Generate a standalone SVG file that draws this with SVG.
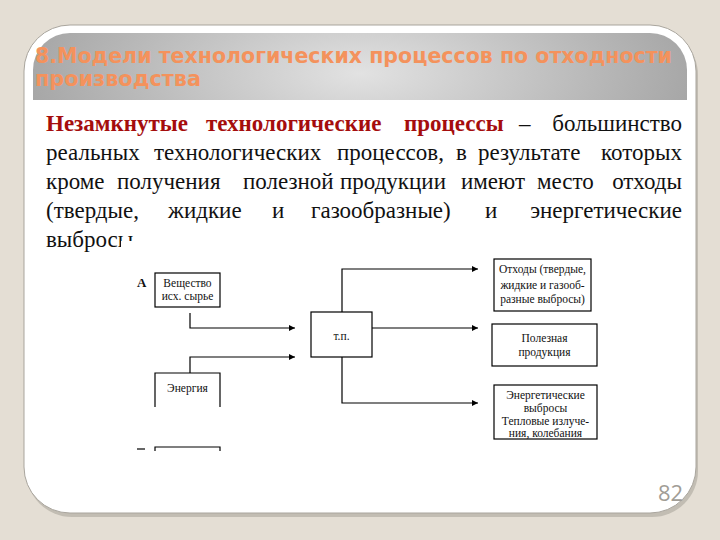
<svg xmlns="http://www.w3.org/2000/svg" width="720" height="540" viewBox="0 0 720 540">
<defs>
<radialGradient id="hdr" cx="0.5" cy="0.6" r="0.6" gradientTransform="translate(0.5 0.6) scale(1 4) translate(-0.5 -0.6)">
<stop offset="0" stop-color="#e2e2e2"/>
<stop offset="1" stop-color="#9c9c9c"/>
</radialGradient>
<marker id="ah" viewBox="0 0 10 10" refX="10" refY="5" markerWidth="9" markerHeight="6" markerUnits="userSpaceOnUse" orient="auto">
<path d="M0 0 L10 5 L0 10 z" fill="#000"/>
</marker>
<style>
.box{fill:#fff;stroke:#000;stroke-width:1.2}
.ln{fill:none;stroke:#000;stroke-width:1.2}
.bt{font-size:11.5px;fill:#111;text-anchor:middle}
.conn{fill:none;stroke:#000;stroke-width:1.2;marker-end:url(#ah)}
.bold{font-weight:bold;fill:#a50d0d}
</style>
</defs>
<rect width="720" height="540" fill="#e4ded4"/>
<g id="card">
<rect x="26" y="29" width="672" height="488" rx="46" ry="46" fill="#c2bdb3"/>
<rect x="24" y="25" width="672" height="488" rx="46" ry="46" fill="#fff" stroke="#a9a59d" stroke-width="1"/>
<path d="M33 100 V70 A37 37 0 0 1 70 33 H650 A37 37 0 0 1 687 70 V100 Z" fill="url(#hdr)"/>
</g>
<g id="title" font-family="DejaVu Sans, sans-serif" font-weight="bold" font-size="20.5" fill="#f4925c">
<text x="35" y="63" textLength="637" lengthAdjust="spacingAndGlyphs">8.Модели технологических процессов по отходности</text>
<text x="35" y="86" textLength="166" lengthAdjust="spacingAndGlyphs">производства</text>
</g>
<g id="body-text" font-family="Liberation Serif, Times New Roman, serif" font-size="23" fill="#111">
<text x="46" y="131" class="bold">Незамкнутые</text>
<text x="206" y="131" class="bold">технологические</text>
<text x="404" y="131" class="bold">процессы</text>
<text x="519" y="131">–</text>
<text x="682" y="131" text-anchor="end">большинство</text>
<text x="46" y="160">реальных</text>
<text x="154" y="160">технологических</text>
<text x="337" y="160">процессов,</text>
<text x="456" y="160">в</text>
<text x="478" y="160">результате</text>
<text x="682" y="160" text-anchor="end">которых</text>
<text x="46" y="189">кроме</text>
<text x="117" y="189">получения</text>
<text x="243" y="189">полезной</text>
<text x="340" y="189">продукции</text>
<text x="461" y="189">имеют</text>
<text x="537" y="189">место</text>
<text x="682" y="189" text-anchor="end">отходы</text>
<text x="46" y="218">(твердые,</text>
<text x="168" y="218">жидкие</text>
<text x="272" y="218">и</text>
<text x="311" y="218">газообразные)</text>
<text x="485" y="218">и</text>
<text x="682" y="218" text-anchor="end">энергетические</text>
<text x="46" y="247">выбросы</text>
</g>
<rect x="121" y="241" width="490" height="215" fill="#fff"/>
<g id="connectors">
<path class="conn" d="M190 313 V328 H295"/>
<path class="conn" d="M190 373 V357 H295"/>
<path class="conn" d="M342 312 V269 H478"/>
<path class="conn" d="M372 328 H478"/>
<path class="conn" d="M342 357 V403 H478"/>
</g>
<g id="diagram-nodes" font-family="Liberation Serif, Times New Roman, serif">
<g id="label-A">
<text x="137" y="287" font-weight="bold" font-size="13" fill="#111">А</text>
</g>
<g id="node-substance">
<rect class="box" x="155" y="273" width="65" height="34"/>
<text class="bt" x="187.5" y="287">Вещество</text>
<text class="bt" x="187.5" y="300">исх. сырье</text>
</g>
<g id="node-energy">
<path class="ln" d="M155 407 V373 H220 V407"/>
<text class="bt" x="187.5" y="392">Энергия</text>
</g>
<g id="node-b">
<path class="ln" d="M137 449 H145"/>
<path class="ln" d="M155 451 V447 H220 V451"/>
</g>
<g id="node-tp">
<rect class="box" x="311" y="312" width="61" height="45"/>
<text class="bt" x="341.5" y="340" font-size="13">т.п.</text>
</g>
<g id="node-waste">
<rect class="box" x="494" y="259" width="97" height="52"/>
<text class="bt" x="542.5" y="273">Отходы (твердые,</text>
<text class="bt" x="542.5" y="289">жидкие и газооб-</text>
<text class="bt" x="542.5" y="303">разные выбросы)</text>
</g>
<g id="node-product">
<rect class="box" x="492" y="324" width="105" height="42"/>
<text class="bt" x="544.5" y="342">Полезная</text>
<text class="bt" x="544.5" y="356">продукция</text>
</g>
<g id="node-energy-out">
<rect class="box" x="494" y="385" width="103" height="54"/>
<text class="bt" x="545.5" y="399">Энергетические</text>
<text class="bt" x="545.5" y="412">выбросы</text>
<text class="bt" x="545.5" y="425">Тепловые излуче-</text>
<text class="bt" x="545.5" y="437">ния, колебания</text>
</g>
</g>
<g id="page-number">
<text x="658" y="501" font-family="Open Sans, sans-serif" font-size="22" fill="#a19d96">82</text>
</g>
</svg>
